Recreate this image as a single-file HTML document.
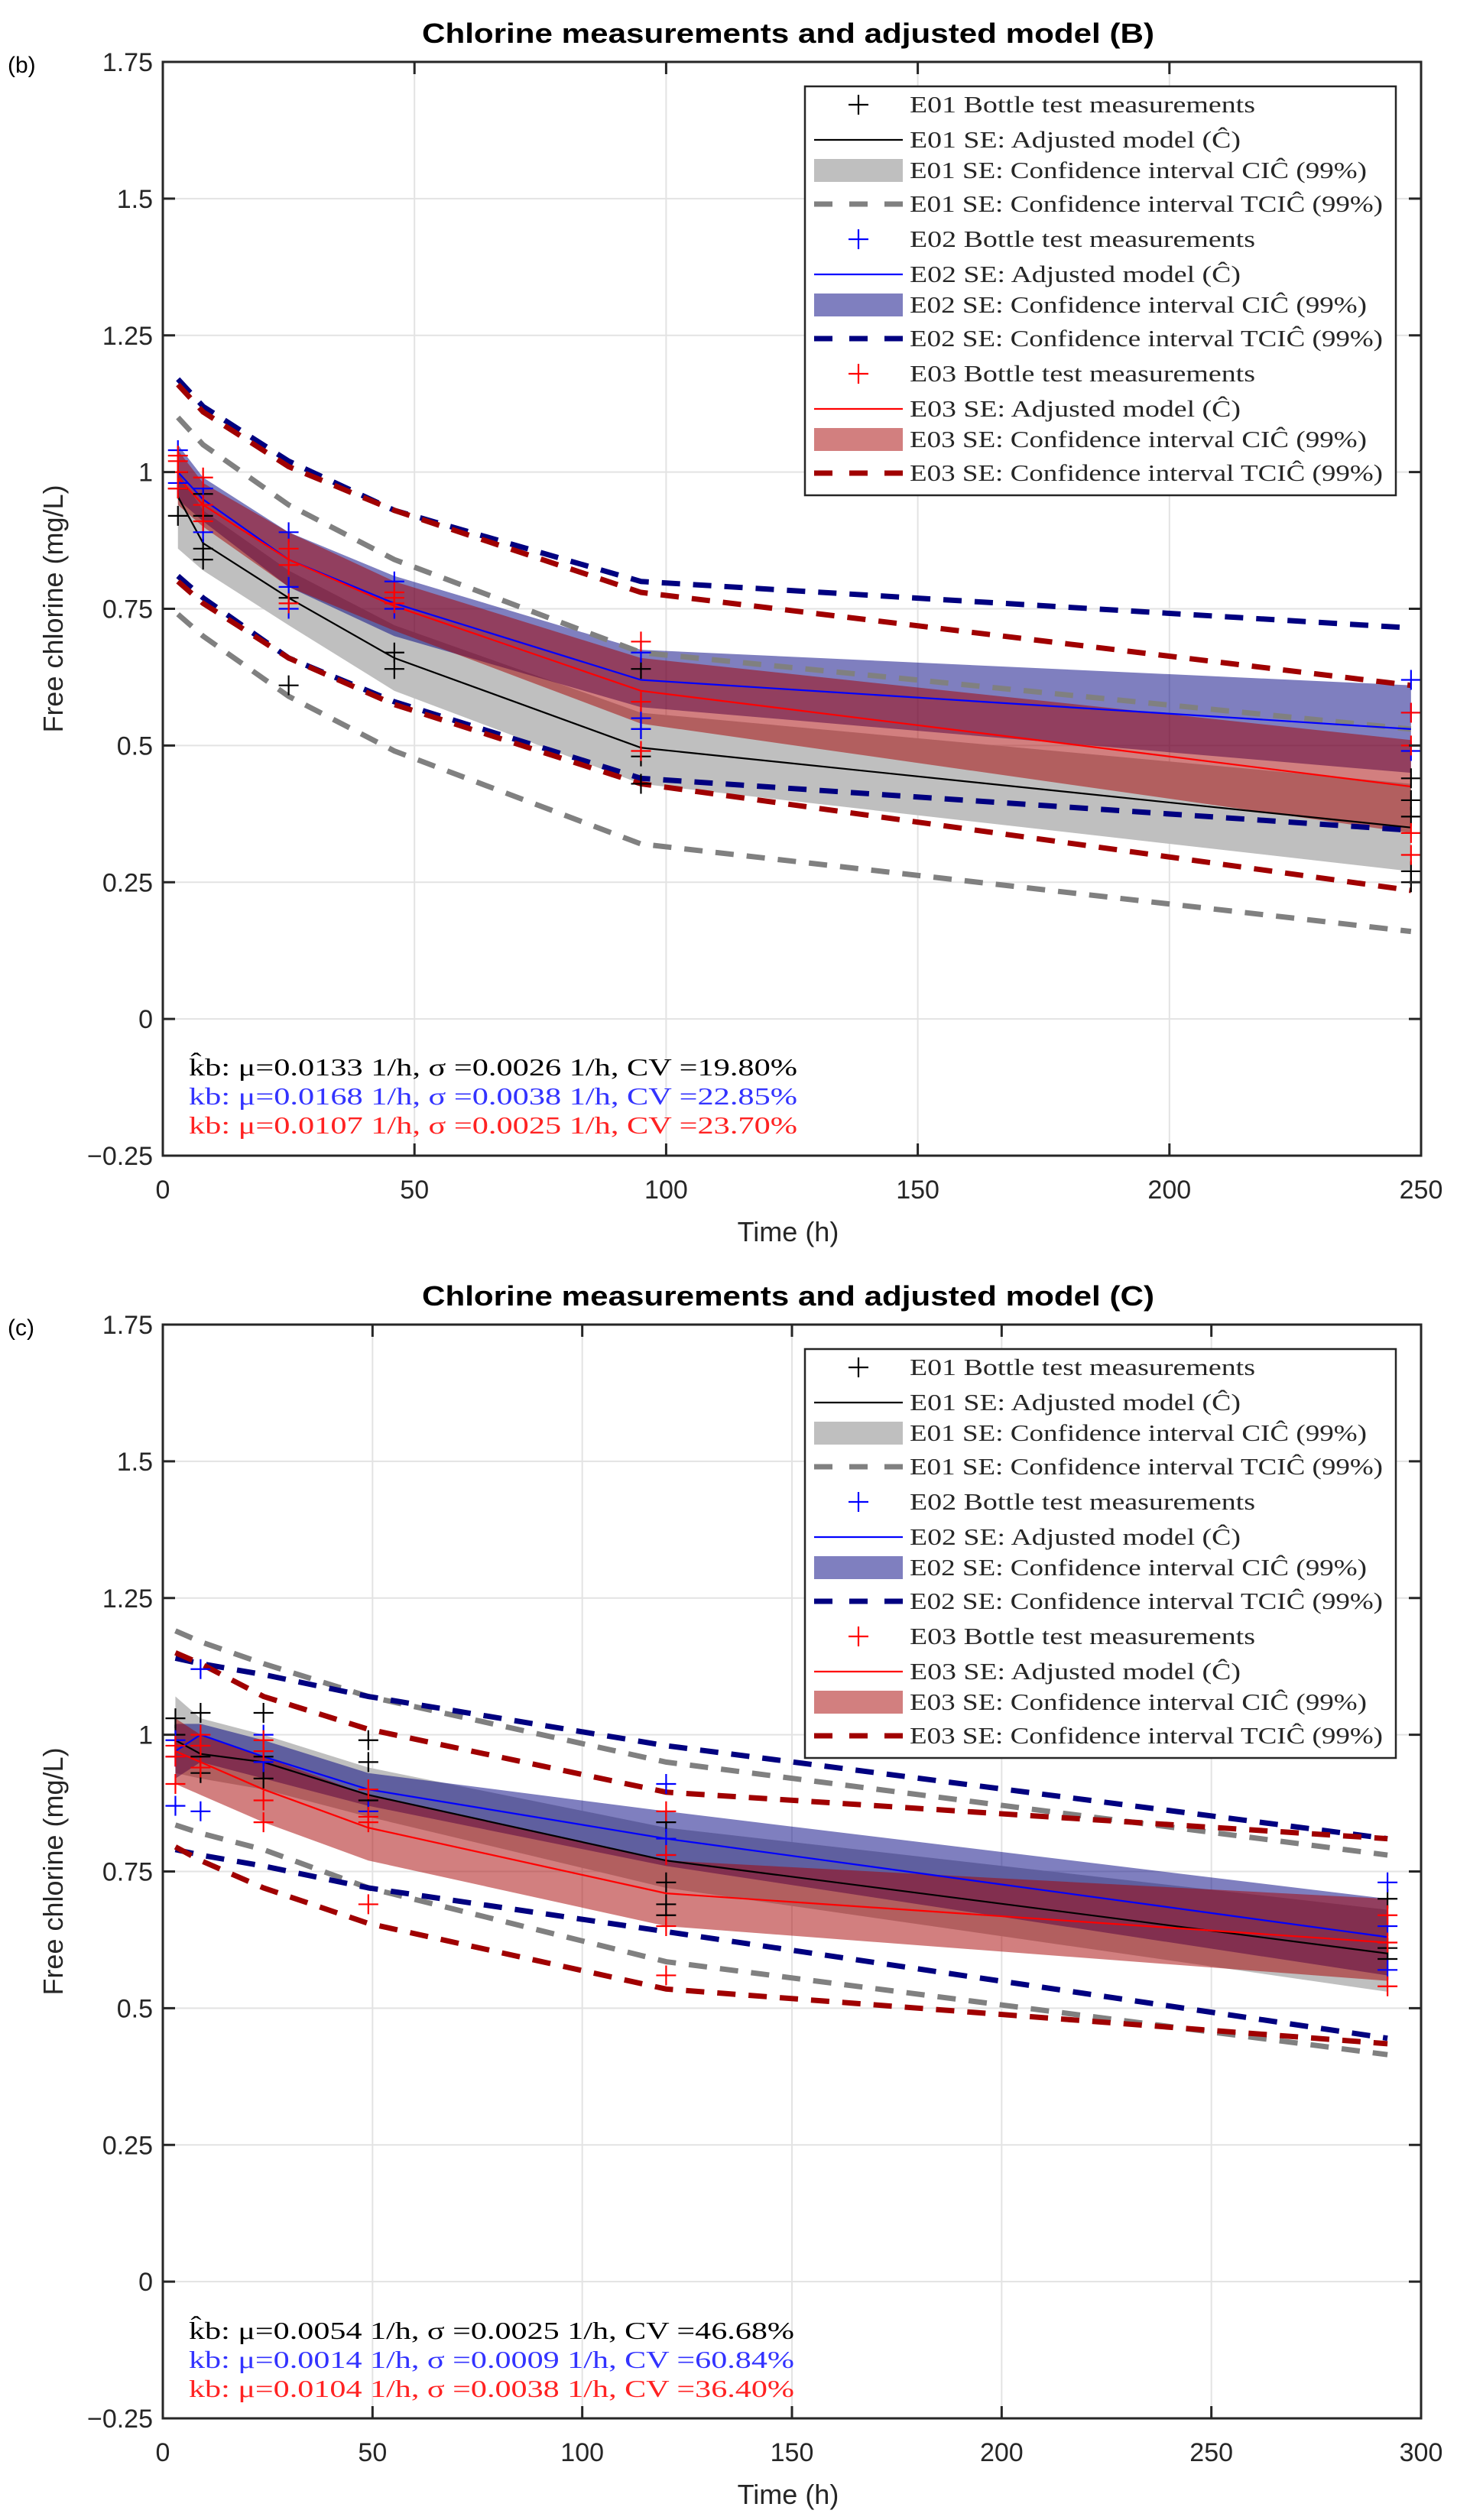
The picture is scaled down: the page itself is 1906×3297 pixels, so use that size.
<!DOCTYPE html>
<html><head><meta charset="utf-8"><style>
html,body{margin:0;padding:0;background:#fff;}
svg{display:block;}
text{font-family:"Liberation Sans",sans-serif;}
.serif{font-family:"Liberation Serif",serif;}
</style></head>
<body>
<svg id="fig" width="1906" height="3297" viewBox="0 0 1906 3297" xmlns="http://www.w3.org/2000/svg"></svg>
<script>
// ---------- Panel B data ----------
const bXTicks=[0,50,100,150,200,250];
const bYTicks=[-0.25,0,0.25,0.5,0.75,1,1.25,1.5,1.75];
const bT=[3,8,25,46,95,248];
const bE01Model=[0.955,0.87,0.77,0.66,0.496,0.35];
const bE01CIu=[1.0,0.93,0.82,0.72,0.56,0.43];
const bE01CIl=[0.86,0.82,0.72,0.60,0.43,0.27];
const bE01TCIu=[1.10,1.05,0.94,0.84,0.67,0.53];
const bE01TCIl=[0.74,0.70,0.59,0.49,0.32,0.16];
const bE02Model=[1.0,0.95,0.84,0.76,0.62,0.53];
const bE02CIu=[1.05,0.99,0.89,0.81,0.675,0.61];
const bE02CIl=[0.95,0.91,0.79,0.70,0.57,0.45];
const bE02TCIu=[1.17,1.12,1.02,0.93,0.80,0.715];
const bE02TCIl=[0.81,0.77,0.66,0.58,0.44,0.345];
const bE03Model=[0.99,0.94,0.84,0.755,0.60,0.425];
const bE03CIu=[1.04,0.98,0.89,0.80,0.66,0.51];
const bE03CIl=[0.94,0.90,0.79,0.71,0.54,0.34];
const bE03TCIu=[1.16,1.11,1.01,0.93,0.78,0.61];
const bE03TCIl=[0.80,0.76,0.66,0.575,0.43,0.235];
const bE01MeasT=[3,3,3,8,8,8,8,25,25,46,46,95,95,95,95,248,248,248,248,248];
const bE01MeasV=[0.92,0.97,1.0,0.84,0.86,0.92,0.96,0.61,0.77,0.64,0.67,0.43,0.48,0.53,0.64,0.25,0.27,0.37,0.40,0.44];
const bE02MeasT=[3,3,8,8,25,25,25,46,46,95,95,95,248,248,248];
const bE02MeasV=[1.04,0.98,0.89,0.97,0.75,0.79,0.89,0.75,0.80,0.53,0.55,0.67,0.49,0.56,0.62];
const bE03MeasT=[3,3,3,3,8,8,8,25,25,25,46,46,46,95,95,95,248,248,248,248];
const bE03MeasV=[0.97,1.0,1.02,1.03,0.91,0.94,0.99,0.76,0.83,0.86,0.76,0.77,0.78,0.49,0.58,0.69,0.30,0.34,0.50,0.56];
// ---------- Panel C data ----------
const cXTicks=[0,50,100,150,200,250,300];
const cYTicks=[-0.25,0,0.25,0.5,0.75,1,1.25,1.5,1.75];
const cT=[3,9,24,49,120,292];
const cE01Model=[0.99,0.965,0.95,0.89,0.77,0.60];
const cE01CIu=[1.07,1.03,1.0,0.94,0.83,0.68];
const cE01CIl=[0.93,0.92,0.90,0.85,0.72,0.53];
const cE01TCIu=[1.19,1.17,1.13,1.07,0.95,0.78];
const cE01TCIl=[0.835,0.82,0.79,0.72,0.585,0.415];
const cE02Model=[0.97,1.0,0.96,0.90,0.81,0.63];
const cE02CIu=[1.02,1.02,0.99,0.93,0.86,0.70];
const cE02CIl=[0.92,0.95,0.92,0.87,0.76,0.56];
const cE02TCIu=[1.14,1.13,1.11,1.07,0.98,0.81];
const cE02TCIl=[0.79,0.78,0.76,0.72,0.64,0.445];
const cE03Model=[0.97,0.95,0.90,0.83,0.71,0.62];
const cE03CIu=[1.03,1.0,0.96,0.89,0.77,0.70];
const cE03CIl=[0.91,0.89,0.84,0.77,0.65,0.55];
const cE03TCIu=[1.15,1.13,1.07,1.01,0.895,0.81];
const cE03TCIl=[0.795,0.77,0.72,0.655,0.535,0.435];
const cE01MeasT=[3,3,9,9,9,24,24,24,49,49,49,120,120,120,120,292,292,292];
const cE01MeasV=[1.0,1.03,0.93,0.96,1.04,0.92,0.96,1.04,0.88,0.95,0.99,0.67,0.69,0.73,0.84,0.59,0.61,0.70];
const cE02MeasT=[3,3,3,9,9,24,24,49,120,120,120,292,292,292];
const cE02MeasV=[0.87,0.96,0.99,0.86,1.12,0.95,1.0,0.86,0.78,0.81,0.91,0.57,0.65,0.73];
const cE03MeasT=[3,3,3,9,9,9,24,24,24,24,49,49,49,49,120,120,120,120,292,292,292];
const cE03MeasV=[0.91,0.96,0.98,0.94,0.98,1.0,0.84,0.88,0.97,0.99,0.69,0.84,0.85,0.90,0.56,0.65,0.78,0.86,0.54,0.62,0.67];

const NS='http://www.w3.org/2000/svg';
const svg=document.getElementById('fig');
function mk(tag,attrs,parent){const e=document.createElementNS(NS,tag);for(const k in attrs)e.setAttribute(k,attrs[k]);(parent||svg).appendChild(e);return e;}

const COL={
  e01:{line:'#000000',band:'#bfbfbf',dash:'#808080',mark:'#000000'},
  e02:{line:'#0000ff',band:'rgba(0,0,128,0.5)',dash:'#000080',mark:'#0000ff'},
  e03:{line:'#ff0000',band:'rgba(165,0,0,0.5)',dash:'#a00000',mark:'#ff0000'}
};

function panel(o){
  const L=213,R=1859,T=o.top,B=o.top+1431;
  const xs=v=>L+(v-o.xmin)/(o.xmax-o.xmin)*(R-L);
  const ys=v=>B-(v+0.25)/2*(B-T);
  const g=mk('g',{});
  
  
  o.xt.forEach(v=>{const l=mk('line',{x1:xs(v),x2:xs(v),y1:T,y2:B,stroke:'#e3e3e3','stroke-width':2},g);});
  o.yt.forEach(v=>{const l=mk('line',{x1:L,x2:R,y1:ys(v),y2:ys(v),stroke:'#e3e3e3','stroke-width':2},g);});
  const series=[['e01',o.s[0]],['e02',o.s[1]],['e03',o.s[2]]];
  series.forEach(([k,s])=>{
    let d='M'+o.t.map((t,i)=>xs(t)+','+ys(s.u[i])).join(' L')+' L'+o.t.slice().reverse().map((t,i)=>xs(t)+','+ys(s.l[s.l.length-1-i])).join(' L')+'Z';
    const p=mk('path',{d:d,fill:COL[k].band,stroke:'none'},g);
    
    
  });
  series.forEach(([k,s])=>{
    [s.tu,s.tl].forEach((arr,j)=>{
      const p=mk('polyline',{points:o.t.map((t,i)=>xs(t)+','+ys(arr[i])).join(' '),fill:'none',stroke:COL[k].dash,'stroke-width':7,'stroke-dasharray':'24,17'},g);
      
      
    });
  });
  series.forEach(([k,s])=>{
    const p=mk('polyline',{points:o.t.map((t,i)=>xs(t)+','+ys(s.m[i])).join(' '),fill:'none',stroke:COL[k].line,'stroke-width':2.2},g);
    
    
  });
  series.forEach(([k,s])=>{
    s.mt.forEach((t,i)=>{
      const cx=xs(t),cy=ys(s.mv[i]),h=13;
      const p=mk('path',{d:`M${cx-h},${cy}H${cx+h}M${cx},${cy-h}V${cy+h}`,stroke:COL[k].mark,'stroke-width':2.2,fill:'none'},g);
      
      
    });
  });
  const bx=mk('rect',{x:L,y:T,width:R-L,height:B-T,fill:'none',stroke:'#262626','stroke-width':3},g);
  
  
  o.xt.forEach(v=>{
    mk('line',{x1:xs(v),x2:xs(v),y1:B,y2:B-16,stroke:'#262626','stroke-width':3},g);
    mk('line',{x1:xs(v),x2:xs(v),y1:T,y2:T+16,stroke:'#262626','stroke-width':3},g);
    const t=mk('text',{x:xs(v),y:B+56,'font-size':34,'text-anchor':'middle',fill:'#262626'},g);
    t.textContent=String(v);
    
    
  });
  o.yt.forEach(v=>{
    mk('line',{x1:L,x2:L+16,y1:ys(v),y2:ys(v),stroke:'#262626','stroke-width':3},g);
    mk('line',{x1:R,x2:R-16,y1:ys(v),y2:ys(v),stroke:'#262626','stroke-width':3},g);
    const t=mk('text',{x:200,y:ys(v)+12,'font-size':34,'text-anchor':'end',fill:'#262626'},g);
    t.textContent=v<0?'\u22120.25':String(v);
    
    
  });
  const ti=mk('text',{x:1031,y:T-25,'font-size':36,'font-weight':'bold','text-anchor':'middle',fill:'#000',textLength:958,lengthAdjust:'spacingAndGlyphs'},g);
  ti.textContent=o.title;
  
  
  const pl=mk('text',{x:10,y:T+14,'font-size':30,fill:'#000'},g);
  pl.textContent=o.plabel;
  
  
  const xl=mk('text',{x:1031,y:B+112,'font-size':36,'text-anchor':'middle',fill:'#262626'},g);
  xl.textContent='Time (h)';
  
  
  const yl=mk('text',{x:0,y:0,'font-size':36,'text-anchor':'middle',fill:'#262626',transform:`translate(82,${(T+B)/2}) rotate(-90)`},g);
  yl.textContent='Free chlorine (mg/L)';
  
  
  const lx=1053,ly=T+32,lw=773,lh=535;
  const lg=mk('g',{},g);
  
  
  mk('rect',{x:lx,y:ly,width:lw,height:lh,fill:'#fff',stroke:'#262626','stroke-width':2.5},lg);
  const labels=[['E01','e01'],['E02','e02'],['E03','e03']];
  const rowC=[24,70,110,154];
  labels.forEach(([nm,k],si)=>{
    const base=ly+si*176;
    const cy=[base+rowC[0],base+rowC[1],base+rowC[2],base+rowC[3]];
    const x0=lx+12,x1=lx+128;
    mk('path',{d:`M${lx+70-13},${cy[0]}H${lx+70+13}M${lx+70},${cy[0]-13}V${cy[0]+13}`,stroke:COL[k].mark,'stroke-width':2.2},lg);
    mk('line',{x1:x0,x2:x1,y1:cy[1],y2:cy[1],stroke:COL[k].line,'stroke-width':2.2},lg);
    mk('rect',{x:x0,y:cy[2]-15,width:x1-x0,height:30,fill:COL[k].band},lg);
    mk('line',{x1:x0,x2:x1,y1:cy[3],y2:cy[3],stroke:COL[k].dash,'stroke-width':7,'stroke-dasharray':'24,22'},lg);
    const txts=[[nm+' Bottle test measurements',452],[nm+' SE: Adjusted model (\u0108)',433],[nm+' SE: Confidence interval CI\u0108 (99%)',598],[nm+' SE: Confidence interval TCI\u0108 (99%)',619]];
    txts.forEach(([s,w],i)=>{
      const t=mk('text',{x:lx+137,y:cy[i]+10,'font-size':31,fill:'#262626',class:'serif',textLength:w,lengthAdjust:'spacingAndGlyphs'},lg);
      t.textContent=s;
      
      
    });
  });
  const cols=['#000000','#3333ff','#ff2222'];
  o.ann.forEach((s,i)=>{
    const t=mk('text',{x:247,y:o.annY+i*38,'font-size':32,fill:cols[i],class:'serif',textLength:o.annW,lengthAdjust:'spacingAndGlyphs'},g);
    t.textContent=s;
    
    
  });
}

panel({name:'panel-b',top:81,xmin:0,xmax:250,xt:bXTicks,yt:bYTicks,t:bT,title:'Chlorine measurements and adjusted model (B)',plabel:'(b)',
  s:[{m:bE01Model,u:bE01CIu,l:bE01CIl,tu:bE01TCIu,tl:bE01TCIl,mt:bE01MeasT,mv:bE01MeasV},
     {m:bE02Model,u:bE02CIu,l:bE02CIl,tu:bE02TCIu,tl:bE02TCIl,mt:bE02MeasT,mv:bE02MeasV},
     {m:bE03Model,u:bE03CIu,l:bE03CIl,tu:bE03TCIu,tl:bE03TCIl,mt:bE03MeasT,mv:bE03MeasV}],
  ann:['k\u0302b: \u03bc=0.0133 1/h, \u03c3 =0.0026 1/h, CV =19.80%','kb: \u03bc=0.0168 1/h, \u03c3 =0.0038 1/h, CV =22.85%','kb: \u03bc=0.0107 1/h, \u03c3 =0.0025 1/h, CV =23.70%'],annY:1407,annW:796});
panel({name:'panel-c',top:1733,xmin:0,xmax:300,xt:cXTicks,yt:cYTicks,t:cT,title:'Chlorine measurements and adjusted model (C)',plabel:'(c)',
  s:[{m:cE01Model,u:cE01CIu,l:cE01CIl,tu:cE01TCIu,tl:cE01TCIl,mt:cE01MeasT,mv:cE01MeasV},
     {m:cE02Model,u:cE02CIu,l:cE02CIl,tu:cE02TCIu,tl:cE02TCIl,mt:cE02MeasT,mv:cE02MeasV},
     {m:cE03Model,u:cE03CIu,l:cE03CIl,tu:cE03TCIu,tl:cE03TCIl,mt:cE03MeasT,mv:cE03MeasV}],
  ann:['k\u0302b: \u03bc=0.0054 1/h, \u03c3 =0.0025 1/h, CV =46.68%','kb: \u03bc=0.0014 1/h, \u03c3 =0.0009 1/h, CV =60.84%','kb: \u03bc=0.0104 1/h, \u03c3 =0.0038 1/h, CV =36.40%'],annY:3060,annW:792});
</script>
</body></html>
